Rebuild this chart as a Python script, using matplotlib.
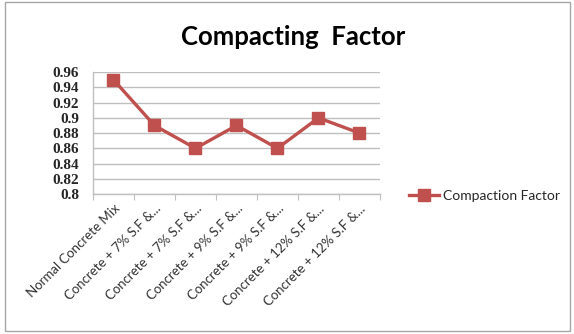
import matplotlib
matplotlib.use('Agg')
import matplotlib.pyplot as plt
from matplotlib.patches import Rectangle
import numpy as np

categories = [
    'Normal Concrete Mix',
    'Concrete + 7% S.F &...',
    'Concrete + 7% S.F &...',
    'Concrete + 9% S.F &...',
    'Concrete + 9% S.F &...',
    'Concrete + 12% S.F &...',
    'Concrete + 12% S.F &...',
]
compaction = [0.95, 0.89, 0.86, 0.89, 0.86, 0.90, 0.88]
yticks = [0.8, 0.82, 0.84, 0.86, 0.88, 0.9, 0.92, 0.94, 0.96]
ytick_labels = ['0.8', '0.82', '0.84', '0.86', '0.88', '0.9', '0.92', '0.94', '0.96']

RED = '#c0504d'
GRID = '#bfbfbf'

fig = plt.figure(figsize=(5.74, 3.34), dpi=100)
fig.patches.append(Rectangle((0.008, 0.008), 0.985, 0.985, transform=fig.transFigure,
                             facecolor='none', edgecolor='#a6a6a6', linewidth=1.0))

ax = fig.add_axes([0.162, 0.419, 0.5, 0.365])
x = np.arange(len(categories))
ax.plot(x, compaction, color=RED, linewidth=2.4, marker='s', markersize=8,
        markerfacecolor=RED, markeredgecolor=RED, label='Compaction Factor', zorder=3)

ax.set_xlim(-0.5, len(categories) - 0.5)
ax.set_ylim(0.8, 0.96)
ax.set_yticks(yticks)
ax.set_yticklabels(ytick_labels, fontfamily='Liberation Serif', fontweight='bold',
                   fontsize=11, color='#262626')
ax.yaxis.grid(True, color=GRID, linewidth=1.0)
ax.set_axisbelow(True)
ax.tick_params(axis='y', length=0, pad=10)

# category ticks sit between the points, labels centred on the points
ax.set_xticks(np.arange(-0.5, len(categories) + 0.5, 1.0))
ax.set_xticklabels([])
ax.set_xticks(x, minor=True)
ax.set_xticklabels(categories, minor=True, rotation=45, ha='right',
                   rotation_mode='anchor', fontfamily='Lato', fontsize=9.5,
                   color='#333333')
ax.tick_params(axis='x', which='major', length=4, color=GRID, direction='out')
ax.tick_params(axis='x', which='minor', length=0, pad=6)

for side in ['top', 'right']:
    ax.spines[side].set_visible(False)
for side in ['left', 'bottom']:
    ax.spines[side].set_color(GRID)
    ax.spines[side].set_linewidth(1.0)

fig.text(0.51, 0.89, 'Compacting  Factor', ha='center', va='center',
         fontfamily='Lato', fontweight='bold', fontsize=18.5, color='black')

fig.legend(loc='center left', bbox_to_anchor=(0.69, 0.413), frameon=False,
           prop={'family': 'Lato', 'size': 10}, handlelength=2.2,
           handletextpad=0.3, labelcolor='#262626')

fig.savefig('out.png', dpi=100, facecolor='white')
